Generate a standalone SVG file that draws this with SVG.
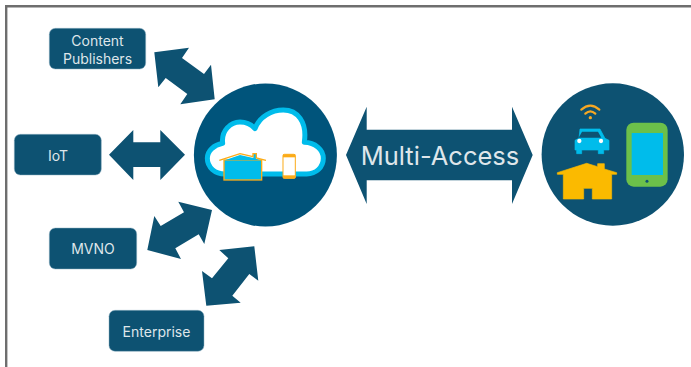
<svg xmlns="http://www.w3.org/2000/svg" width="691" height="367" viewBox="0 0 691 367">
<style>
.box{fill:#0d5272;stroke:#8fb0c2;stroke-width:.5}
.arrow{fill:#0d5272}
text{font-family:"Inter","Liberation Sans",sans-serif;fill:#dfe6ea;text-anchor:middle}
.lbl{font-size:14px}
</style>
<rect width="691" height="367" fill="#fff"/>
<path d="M6.200 367V6.200H691" fill="none" stroke="#6e6e6e" stroke-width="2.400"/>
<g id="connectors">
<polygon class="arrow" points="154.300,52.300 189,47.700 182,58 204,74 211,64.700 214.700,99.300 180.300,104.300 187.300,94 165.700,78 158.300,87.300"/>
<polygon class="arrow" points="109,154.700 133.300,130 133.300,142.300 160.300,142.300 160.300,130 185,154.700 160.300,180 160.300,167 133.300,167 133.300,180"/>
<polygon class="arrow" points="147.300,250 154.300,216 160.700,226 184,212.300 178.300,201.700 212,210 204.300,244 198.700,234.300 175.300,248.300 181,259"/>
<polygon class="arrow" points="206.300,305.700 202,271 212,278.300 228.300,258.300 219.300,250 254.300,246.300 258.300,280.700 249.300,274 232.300,295.700 240.700,302.700"/>
<g id="multi-access">
<polygon class="arrow" points="346,155 366.700,106.700 366.700,129.700 512,129.700 512,106.700 532.700,155 512,204 512,180.300 366.700,180.300 366.700,204"/>
<text x="440" y="165" font-size="25.500">Multi-Access</text>
</g>
</g>
<g id="content-publishers"><rect class="box" x="49.300" y="28.300" width="96.400" height="40.700" rx="6"/><text class="lbl" x="97.500" y="46">Content</text><text class="lbl" x="97.500" y="63.500">Publishers</text></g>
<g id="iot"><rect class="box" x="14.300" y="134.300" width="87" height="40.700" rx="6"/><text class="lbl" x="58" y="161">IoT</text></g>
<g id="mvno"><rect class="box" x="49.300" y="228" width="87.400" height="41" rx="6"/><text class="lbl" x="93" y="254.300">MVNO</text></g>
<g id="enterprise"><rect class="box" x="109" y="310.300" width="95" height="41" rx="6"/><text class="lbl" x="156.500" y="336.700">Enterprise</text></g>
<g id="cloud-hub">
<circle cx="265.400" cy="155" r="71.500" fill="#00547b"/>
<g transform="translate(190 70) scale(.3333)">
<path d="M105 312C75 312 52 292 52 265C52 242 72 225 98 220C93 182 122 156 150 156C168 156 184 163 195 176C208 140 245 120 280 120C322 120 352 155 343 217C375 218 400 238 400 265C400 292 378 312 350 312Z" fill="#fff" stroke="#00bceb" stroke-width="15" stroke-linejoin="round"/>
<rect x="102" y="270" width="113" height="60" fill="#00bceb" stroke="#fbab18" stroke-width="4"/>
<path d="M104 271L150 255L190 264V252H198V266L213 271Z" fill="#00bceb"/>
<path d="M88 271L150 251L189 260V251H199V264L228 271" fill="none" stroke="#fbab18" stroke-width="4"/>
<rect x="279" y="253" width="37" height="72" rx="4" fill="#fff" stroke="#fbab18" stroke-width="3"/>
<rect x="279" y="253" width="37" height="9" fill="#fbab18"/>
<rect x="279" y="316" width="37" height="9" fill="#fbab18"/>
</g>
</g>
<g id="devices">
<circle cx="612.800" cy="154.500" r="71.200" fill="#0d5272"/>
<g transform="translate(535 75) scale(.3333)">
<rect x="274" y="143" width="124" height="192" rx="22" fill="#6cc04a"/>
<rect x="290" y="174" width="94" height="126" fill="#00bceb"/>
<circle cx="336" cy="319" r="4.500" fill="#0d5272"/>
<path d="M67 293L155 265L188 275V266H208V282L245 293V298H230V372H172V340H146V372H85V298H67Z" fill="#fbba00" stroke="#fbba00" stroke-width="2" stroke-linejoin="round"/>
<path d="M135 162H195L210 190L222 196V225H206V236H190V225H140V236H125V225H120V196L132 190Z" fill="#00bceb" stroke="#00bceb" stroke-width="2" stroke-linejoin="round"/>
<path d="M141 170H189L199 188H131Z" fill="#0d5272"/>
<circle cx="133" cy="198" r="6.500" fill="#fff"/><circle cx="198" cy="198" r="6.500" fill="#fff"/>
<path d="M139 104Q166 80 193 104M151 116Q166 102 181 116" fill="none" stroke="#f7a823" stroke-width="6.500" stroke-linecap="round"/>
<circle cx="166" cy="128" r="5" fill="#f7a823"/>
</g>
</g>
</svg>
